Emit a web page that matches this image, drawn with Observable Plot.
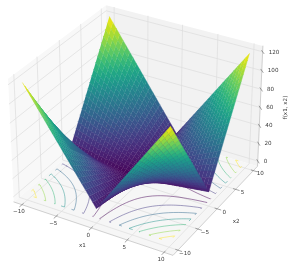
<!DOCTYPE html>
<html><head><meta charset="utf-8">
<style>html,body{margin:0;padding:0;background:#fff}svg{display:block;filter:blur(0.5px)}</style>
<script src="https://cdn.jsdelivr.net/npm/d3@7"></script>
<script src="https://cdn.jsdelivr.net/npm/@observablehq/plot@0.6"></script>
</head><body><script>
// surface heights, one quadrant (the surface is mirrored on both axes)
const absGrid=[0,.5,1,1.5,2,2.5,3,3.5,4,4.5,5,5.5,6,6.5,7,7.5,8,8.5,9,9.5,10];
const heights=[
[0,.5,1,1.5,2,2.5,3,3.5,4,4.5,5,5.5,6,6.5,7,7.5,8,8.5,9,9.5,10],
[.5,1.25,2,2.75,3.5,4.25,5,5.75,6.5,7.25,8,8.75,9.5,10.25,11,11.75,12.5,13.25,14,14.75,15.5],
[1,2,3,4,5,6,7,8,9,10,11,12,13,14,15,16,17,18,19,20,21],
[1.5,2.75,4,5.25,6.5,7.75,9,10.25,11.5,12.75,14,15.25,16.5,17.75,19,20.25,21.5,22.75,24,25.25,26.5],
[2,3.5,5,6.5,8,9.5,11,12.5,14,15.5,17,18.5,20,21.5,23,24.5,26,27.5,29,30.5,32],
[2.5,4.25,6,7.75,9.5,11.25,13,14.75,16.5,18.25,20,21.75,23.5,25.25,27,28.75,30.5,32.25,34,35.75,37.5],
[3,5,7,9,11,13,15,17,19,21,23,25,27,29,31,33,35,37,39,41,43],
[3.5,5.75,8,10.25,12.5,14.75,17,19.25,21.5,23.75,26,28.25,30.5,32.75,35,37.25,39.5,41.75,44,46.25,48.5],
[4,6.5,9,11.5,14,16.5,19,21.5,24,26.5,29,31.5,34,36.5,39,41.5,44,46.5,49,51.5,54],
[4.5,7.25,10,12.75,15.5,18.25,21,23.75,26.5,29.25,32,34.75,37.5,40.25,43,45.75,48.5,51.25,54,56.75,59.5],
[5,8,11,14,17,20,23,26,29,32,35,38,41,44,47,50,53,56,59,62,65],
[5.5,8.75,12,15.25,18.5,21.75,25,28.25,31.5,34.75,38,41.25,44.5,47.75,51,54.25,57.5,60.75,64,67.25,70.5],
[6,9.5,13,16.5,20,23.5,27,30.5,34,37.5,41,44.5,48,51.5,55,58.5,62,65.5,69,72.5,76],
[6.5,10.25,14,17.75,21.5,25.25,29,32.75,36.5,40.25,44,47.75,51.5,55.25,59,62.75,66.5,70.25,74,77.75,81.5],
[7,11,15,19,23,27,31,35,39,43,47,51,55,59,63,67,71,75,79,83,87],
[7.5,11.75,16,20.25,24.5,28.75,33,37.25,41.5,45.75,50,54.25,58.5,62.75,67,71.25,75.5,79.75,84,88.25,92.5],
[8,12.5,17,21.5,26,30.5,35,39.5,44,48.5,53,57.5,62,66.5,71,75.5,80,84.5,89,93.5,98],
[8.5,13.25,18,22.75,27.5,32.25,37,41.75,46.5,51.25,56,60.75,65.5,70.25,75,79.75,84.5,89.25,94,98.75,103.5],
[9,14,19,24,29,34,39,44,49,54,59,64,69,74,79,84,89,94,99,104,109],
[9.5,14.75,20,25.25,30.5,35.75,41,46.25,51.5,56.75,62,67.25,72.5,77.75,83,88.25,93.5,98.75,104,109.25,114.5],
[10,15.5,21,26.5,32,37.5,43,48.5,54,59.5,65,70.5,76,81.5,87,92.5,98,103.5,109,114.5,120]];
const x1Ticks=[-10,-5,0,5,10], x2Ticks=[-10,-5,0,5,10], zTicks=[0,20,40,60,80,100,120];
const contourLevels=[15,30,45,60,75,90,105];
const xLim=[-11.2,11.2], zLim=[-6,126];
const elev=30, azim=-60, dist=10;

// mplot3d-style camera
const aspect=[4,4,3], nrm=Math.hypot(...aspect), box=aspect.map(a=>a*1.8294640721620434*25/24/nrm);
const rad=Math.PI/180, w=[Math.cos(elev*rad)*Math.cos(azim*rad),Math.cos(elev*rad)*Math.sin(azim*rad),Math.sin(elev*rad)];
const unit=v=>{const n=Math.hypot(...v);return v.map(a=>a/n)};
const cross=(a,b)=>[a[1]*b[2]-a[2]*b[1],a[2]*b[0]-a[0]*b[2],a[0]*b[1]-a[1]*b[0]];
const u=unit(cross([0,0,1],w)), v=cross(w,u);
const dot=(a,b)=>a[0]*b[0]+a[1]*b[1]+a[2]*b[2];
function P(x,y,z){
  const p=[(x-xLim[0])/(xLim[1]-xLim[0])*box[0]-box[0]/2,(y-xLim[0])/(xLim[1]-xLim[0])*box[1]-box[1]/2,(z-zLim[0])/(zLim[1]-zLim[0])*box[2]-box[2]/2];
  const vz=dot(p,w)-dist;
  return {px:dot(p,u)/-vz,py:dot(p,v)/-vz,depth:vz};
}
const [a,b]=xLim,[c,d]=zLim;

// surface cells
const full=[...absGrid].reverse().map(g=>-g).concat(absGrid.slice(1));
const zAt=(i,j)=>heights[Math.abs(i-20)][Math.abs(j-20)];
const cells=[];
for(let i=0;i<40;i++)for(let j=0;j<40;j++){
  const cs=[[i,j],[i+1,j],[i+1,j+1],[i,j+1]].map(([m,n])=>({...P(full[m],full[n],zAt(m,n)),h:zAt(m,n)}));
  cells.push({pts:cs,depth:d3.mean(cs,e=>e.depth),h:d3.mean(cs,e=>e.h)});
}
cells.sort((p,q)=>p.depth-q.depth);
const surf=cells.flatMap((cl,id)=>cl.pts.map(e=>({px:e.px,py:e.py,id,h:cl.h})));

// floor contours
const flat=[];for(let n=0;n<41;n++)for(let m=0;m<41;m++)flat.push(zAt(m,n));
const toV=t=>-10+(t-.5)*.5;
const conts=[];let cid=0;
for(const lvl of contourLevels){
  const g=d3.contours().size([41,41]).thresholds([lvl])(flat)[0];
  for(const pg of g.coordinates)for(const ring of pg){
    let run=[];
    const flush=()=>{if(run.length>1){cid++;for(const r of run){conts.push({...P(r[0],r[1],0),id:cid,lvl})}}run=[]};
    for(let k=0;k<ring.length;k++){
      const x=toV(ring[k][0]),y=toV(ring[k][1]);
      const inside=Math.abs(x)<=10&&Math.abs(y)<=10;
      const cl=[Math.max(-10,Math.min(10,x)),Math.max(-10,Math.min(10,y))];
      if(inside){run.push(cl)}else{
        if(run.length){run.push(cl);flush()}
        const nx=ring[k+1];
        if(nx&&Math.abs(toV(nx[0]))<=10&&Math.abs(toV(nx[1]))<=10)run=[cl];
      }
    }
    flush();
  }
}

// panes, grid, ticks
const poly=pts=>pts.map(q=>P(...q));
const paneBack1=poly([[a,a,c],[a,b,c],[a,b,d],[a,a,d]]);
const paneBack2=poly([[a,b,c],[b,b,c],[b,b,d],[a,b,d]]);
const paneFloor=poly([[a,a,c],[b,a,c],[b,b,c],[a,b,c]]);
const grid=[];let gid=0;
const addPath=(arr,pts)=>{gid++;pts.forEach(q=>arr.push({...P(...q),id:gid}))};
x1Ticks.forEach(t=>addPath(grid,[[t,a,c],[t,b,c],[t,b,d]]));
x2Ticks.forEach(t=>addPath(grid,[[b,t,c],[a,t,c],[a,t,d]]));
zTicks.forEach(t=>addPath(grid,[[a,a,t],[a,b,t],[b,b,t]]));
const edges=[];
[[[a,a,c],[b,a,c],[b,b,c],[b,b,d]]].forEach(s=>addPath(edges,s));
const ticks=[];
x1Ticks.forEach(t=>addPath(ticks,[[t,a+.3,c],[t,a-.5,c]]));
x2Ticks.forEach(t=>addPath(ticks,[[b-.3,t,c],[b+.5,t,c]]));
zTicks.forEach(t=>addPath(ticks,[[b-.25,b+.25,t],[b+.35,b-.35,t]]));

const pkL=P(-10,-10,120),pkR=P(10,10,120),pkB=P(-10,10,120),dipFL=P(0,-10,10);
const ln={x:"px",y:"py"};
const txt={fontSize:5.6,fontFamily:"DejaVu Sans",fill:"#3a3a3a"};
const minus=t=>String(t).replace("-","\u2212");
const plot=Plot.plot({
  width:292,height:264,margin:0,
  x:{axis:null,domain:[pkL.px,pkR.px],range:[22,249]},
  y:{axis:null,domain:[dipFL.py,pkB.py],range:[208,16]},
  color:{type:"linear",scheme:"viridis",domain:[0,120]},
  marks:[
    Plot.line(paneBack1,{...ln,fill:"#f8f8f8",stroke:"none"}),
    Plot.line(paneBack2,{...ln,fill:"#f2f2f2",stroke:"none"}),
    Plot.line(paneFloor,{...ln,fill:"#f6f6f6",stroke:"none"}),
    Plot.line(grid,{...ln,z:"id",stroke:"#dcdcdc",strokeWidth:.7,curve:"linear"}),
    Plot.line(edges,{...ln,z:"id",stroke:"#c4c4c4",strokeWidth:.8}),
    Plot.line(ticks,{...ln,z:"id",stroke:"#666",strokeWidth:.6}),
    Plot.line(conts,{...ln,z:"id",stroke:e=>(e.lvl-15)/90*120,strokeWidth:.75,strokeOpacity:.65}),
    Plot.line(surf,{...ln,z:"id",fill:"h",stroke:"h",strokeWidth:.4}),
    Plot.text(x1Ticks,{...txt,x:t=>P(t,a,c).px,y:t=>P(t,a,c).py,dx:-3,dy:7,text:minus}),
    Plot.text(x2Ticks,{...txt,x:t=>P(b,t,c).px,y:t=>P(b,t,c).py,dx:7,dy:3,text:minus}),
    Plot.text(zTicks,{...txt,x:t=>P(b,b,t).px,y:t=>P(b,b,t).py,dx:6,dy:0,textAnchor:"start",text:minus}),
    Plot.text(["x1"],{...txt,x:()=>P(0,a,c).px,y:()=>P(0,a,c).py,dx:-9,dy:17}),
    Plot.text(["x2"],{...txt,x:()=>P(b,0,c).px,y:()=>P(b,0,c).py,dx:19,dy:12}),
    Plot.text(["f(x1, x2)"],{...txt,x:()=>P(b,b,60).px,y:()=>P(b,b,60).py,dx:25,dy:0,rotate:-90})
  ]
});
document.body.appendChild(plot);
</script></body></html>
